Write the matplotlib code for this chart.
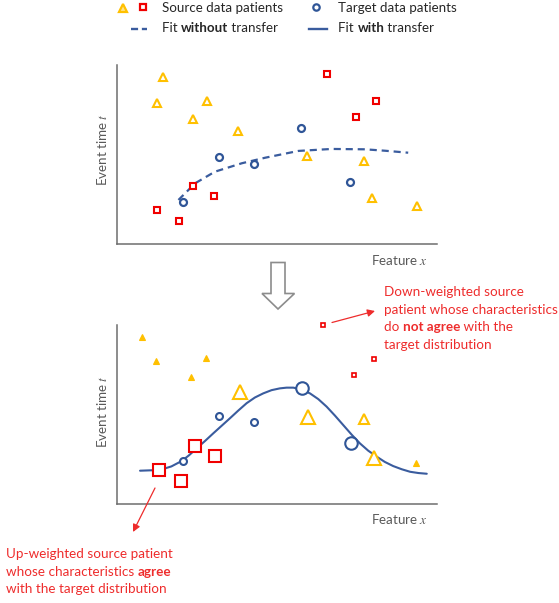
import matplotlib
matplotlib.use("Agg")
import matplotlib.pyplot as plt
from matplotlib.patches import Polygon

plt.rcParams['font.family'] = ['Lato', 'DejaVu Sans']
plt.rcParams['mathtext.fontset'] = 'stix'

# ---------------- data (feature x, event time t) ----------------
# Top panel (no transfer)
src_tri_x = [1.45, 1.26, 2.82, 2.37, 3.79, 5.93, 7.73, 7.96, 9.38]
src_tri_y = [9.31, 7.86, 7.99, 6.98, 6.31, 4.92, 4.64, 2.59, 2.12]
src_sq_x = [6.55, 8.09, 7.46, 2.38, 3.03, 1.26, 1.94]
src_sq_y = [9.50, 7.99, 7.09, 3.26, 2.70, 1.92, 1.30]
tgt_x = [5.74, 3.18, 4.29, 7.27, 2.06]
tgt_y = [6.50, 4.84, 4.47, 3.48, 2.33]
fit_no_x = [1.92, 2.44, 3.06, 3.90, 4.63, 5.67, 6.71, 7.75, 8.38, 9.10]
fit_no_y = [2.46, 3.39, 4.04, 4.51, 4.82, 5.20, 5.31, 5.29, 5.21, 5.10]

# Bottom panel (with transfer, weighted)
b_tri_x = [0.79, 1.21, 2.77, 2.30, 3.84, 5.98, 7.73, 8.02, 9.34]
b_tri_y = [9.35, 8.01, 8.17, 7.11, 6.27, 4.84, 4.73, 2.59, 2.27]
b_tri_w = [0.3, 0.3, 0.3, 0.3, 2, 2, 1, 2, 0.3]
b_sq_x = [6.43, 8.04, 7.42, 2.44, 3.07, 1.31, 2.00]
b_sq_y = [9.98, 8.10, 7.21, 3.24, 2.68, 1.88, 1.27]
b_sq_w = [0.3, 0.3, 0.3, 2, 2, 2, 2]
b_tgt_x = [5.79, 3.18, 4.29, 7.31, 2.06]
b_tgt_y = [6.46, 4.92, 4.56, 3.42, 2.42]
b_tgt_w = [2, 1, 1, 2, 1]
fit_with_x = [0.72, 1.34, 1.70, 2.02, 2.25, 2.49, 2.75, 3.01, 3.27, 3.53, 3.79, 4.05, 4.31,
              4.57, 4.83, 5.09, 5.30, 5.51, 5.77, 6.03, 6.29, 6.55, 6.81, 7.07, 7.33,
              7.59, 7.85, 8.12, 8.37, 8.63, 8.90, 9.16, 9.42, 9.68]
fit_with_y = [1.86, 1.90, 2.10, 2.40, 2.72, 3.11, 3.52, 3.95, 4.37, 4.79, 5.22, 5.63, 5.95,
              6.18, 6.36, 6.46, 6.50, 6.50, 6.39, 6.18, 5.86, 5.44, 4.94, 4.41, 3.88,
              3.39, 2.98, 2.64, 2.35, 2.12, 1.94, 1.80, 1.73, 1.69]

YEL = '#FFC000'
RED = '#F00000'
BLUE = '#2F5597'
LINE = '#3A5C9E'
TXT = '#262626'
GRAY = '#595959'
ANN = '#EE2C2C'

W, H = 559, 603
fig = plt.figure(figsize=(W / 100, H / 100), dpi=100)


def make_axes(top_px):
    ax = fig.add_axes([117 / W, 1 - (top_px + 179) / H, 320 / W, 179 / H])
    ax.set_xlim(0, 10)
    ax.set_ylim(0, 10)
    for s in ['top', 'right']:
        ax.spines[s].set_visible(False)
    for s in ['left', 'bottom']:
        ax.spines[s].set_color('#6E6E6E')
        ax.spines[s].set_linewidth(1.1)
    ax.set_xticks([])
    ax.set_yticks([])
    ax.patch.set_alpha(0)
    return ax


# ---- top panel ----
ax1 = make_axes(65)
ax1.plot(fit_no_x, fit_no_y, color=LINE, lw=1.6, dashes=(3.2, 2.2), zorder=2)
ax1.plot(src_tri_x, src_tri_y, ls='none', marker='^', ms=6.3, mfc='white', mec=YEL,
         mew=1.5, clip_on=False, zorder=3)
ax1.plot(src_sq_x, src_sq_y, ls='none', marker='s', ms=5.0, mfc='white', mec=RED,
         mew=1.5, clip_on=False, zorder=3)
ax1.plot(tgt_x, tgt_y, ls='none', marker='o', ms=5.0, mfc='white', mec=BLUE,
         mew=1.6, clip_on=False, zorder=3)

# ---- bottom panel ----
ax2 = make_axes(325)
ax2.plot(fit_with_x, fit_with_y, color=LINE, lw=1.5, zorder=2, solid_capstyle='round')
for x, y, w in zip(b_tri_x, b_tri_y, b_tri_w):
    if w < 0.5:
        ax2.plot(x, y, marker='^', ms=5.0, mfc=YEL, mec=YEL, mew=0.8, clip_on=False, zorder=3)
    else:
        ms = 6.5 if w < 1.5 else 9.5
        ax2.plot(x, y, marker='^', ms=ms, mfc='white', mec=YEL, mew=1.5, clip_on=False, zorder=3)
for x, y, w in zip(b_sq_x, b_sq_y, b_sq_w):
    if w < 0.5:
        ax2.plot(x, y, marker='s', ms=3.2, mfc='white', mec=RED, mew=1.2, clip_on=False, zorder=3)
    else:
        ax2.plot(x, y, marker='s', ms=8.8, mfc='white', mec=RED, mew=1.5, clip_on=False, zorder=3)
for x, y, w in zip(b_tgt_x, b_tgt_y, b_tgt_w):
    ms = 5.0 if w < 1.5 else 9.0
    ax2.plot(x, y, marker='o', ms=ms, mfc='white', mec=BLUE, mew=1.5, clip_on=False, zorder=3)

# ---- overlay in pixel coordinates ----
ov = fig.add_axes([0, 0, 1, 1])
ov.set_xlim(0, W)
ov.set_ylim(H, 0)
ov.axis('off')
ov.patch.set_alpha(0)

fig.canvas.draw()
renderer = fig.canvas.get_renderer()


def runs(x, y, parts, size, color, va='center'):
    for s, w in parts:
        t = ov.text(x, y, s, fontsize=size, color=color, weight=w, ha='left', va=va)
        bb = t.get_window_extent(renderer=renderer)
        x += bb.width


# legend
ov.plot(123.3, 7.6, marker='^', ms=5.5, mfc='#FFE38A', mec=YEL, mew=1.6)
ov.plot(142.5, 7.0, marker='s', ms=4.8, mfc='white', mec=RED, mew=1.6)
ov.plot(316, 7.0, marker='o', ms=4.6, mfc='white', mec=BLUE, mew=1.6)
ov.plot([130.5, 147], [29, 29], color=LINE, lw=1.7, dashes=(3.0, 1.6))
ov.plot([309, 327], [29, 29], color=LINE, lw=1.7)
LFS = 9.6
runs(161.5, 7.5, [('Source data patients', 'normal')], LFS, TXT)
runs(338.5, 7.5, [('Target data patients', 'normal')], LFS, TXT)
runs(161.5, 28.5, [('Fit ', 'normal'), ('without', 'bold'), (' transfer', 'normal')], LFS, TXT)
runs(338.5, 28.5, [('Fit ', 'normal'), ('with', 'bold'), (' transfer', 'normal')], LFS, TXT)

# axis labels
for yc, xl in [(150, 260), (412, 519)]:
    ov.text(102, yc, 'Event time $t$', rotation=90, ha='center', va='center',
            fontsize=LFS, color=GRAY)
    ov.text(399, xl, 'Feature $x$', ha='center', va='center', fontsize=LFS, color=GRAY)

# block arrow between panels
ov.add_patch(Polygon([(271, 262.5), (285, 262.5), (285, 293.5), (294.5, 293.5),
                      (278, 309), (262, 293.5), (271, 293.5)], closed=True,
                     facecolor='white', edgecolor='#8C8C8C', lw=1.2))

# annotations
AFS = 9.7
lines_down = [[('Down-weighted source', 'normal')],
              [('patient whose characteristics', 'normal')],
              [('do ', 'normal'), ('not agree', 'bold'), (' with the', 'normal')],
              [('target distribution', 'normal')]]
for i, parts in enumerate(lines_down):
    runs(384, 292 + i * 17.6, parts, AFS, ANN)
lines_up = [[('Up-weighted source patient', 'normal')],
            [('whose characteristics ', 'normal'), ('agree', 'bold')],
            [('with the target distribution', 'normal')]]
for i, parts in enumerate(lines_up):
    runs(6, 554 + i * 17.6, parts, AFS, ANN)

ov.annotate('', xy=(375, 311), xytext=(332, 322.5),
            arrowprops=dict(arrowstyle='-|>', color=ANN, lw=0.9, mutation_scale=11,
                            shrinkA=0, shrinkB=0))
ov.annotate('', xy=(133, 532), xytext=(155, 488),
            arrowprops=dict(arrowstyle='-|>', color=ANN, lw=0.9, mutation_scale=11,
                            shrinkA=0, shrinkB=0))

fig.savefig('out.png', dpi=100)
